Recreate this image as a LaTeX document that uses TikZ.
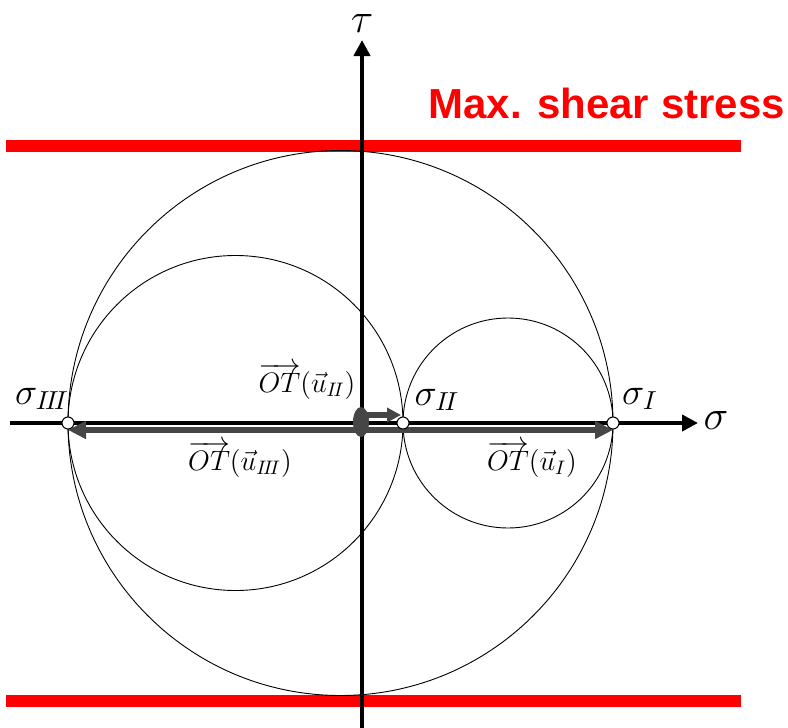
\documentclass[tikz,border=0pt]{standalone}
\usepackage{amsmath}
\usepackage{graphicx}
\usepackage{fontspec}
\setmainfont{Liberation Sans}
\usetikzlibrary{arrows.meta,shapes.geometric}
\definecolor{vecgray}{RGB}{70,70,70}
\definecolor{maxred}{RGB}{255,0,0}
\newcommand{\lblmath}[1]{\scalebox{1.95}{\fontsize{14.4}{17}\selectfont$#1$}}
\newcommand{\sigmath}[1]{\scalebox{2.6}{\fontsize{14.4}{17}\selectfont$#1$}}
\newcommand{\axmath}[1]{\scalebox{2.9}{\fontsize{14.4}{17}\selectfont$#1$}}
\tikzset{
  mohr/.style={draw=black, line width=0.9pt},
  axisline/.style={line width=4.5pt, -{Triangle[length=16pt,width=16pt]}},
  vecarrow/.style={vecgray, line width=6pt, -{Triangle[length=18pt,width=17pt]}},
  redline/.style={maxred, line width=12pt},
  pt/.style={circle, draw=black, fill=white, line width=1pt, inner sep=0pt, minimum size=12pt},
  lbl/.style={inner sep=0pt}
}
\begin{document}
\begin{tikzpicture}[x=1pt,y=-1pt]
\useasboundingbox (0,0) rectangle (788,728);
% red lines
\draw[redline] (6,146) -- (741,146);
\draw[redline] (6,701) -- (741,701);
\node[anchor=base east, inner sep=0pt, text=maxred, font=\fontsize{42}{48}\selectfont\bfseries] (title) at (785,118) {Max. shear stress};
% key coordinates
\coordinate (O) at (362,423);
\coordinate (S1) at (613,423);
\coordinate (S2) at (403,423);
\coordinate (S3) at (68,423);
% Mohr circles
\draw[mohr] (340.5,423) circle (272.5);
\draw[mohr] (235.5,423) circle (167.5);
\draw[mohr] (508,423) circle (105);
% axes
\coordinate (XL) at (10,423);
\coordinate (XR) at (698,423);
\coordinate (YB) at (362,728);
\coordinate (YT) at (362,40);
\draw[axisline] (XL) -- (XR);
\draw[axisline] (YB) -- (YT);
% vector arrows
\coordinate (Oa) at (362,430);
\coordinate (S1a) at (613,430);
\coordinate (S3a) at (68,430);
\coordinate (Ob) at (362,415);
\coordinate (S2b) at (401,415);
\draw[vecarrow] (Oa) -- (S1a);
\draw[vecarrow] (Oa) -- (S3a);
\draw[vecarrow, -{Triangle[length=14pt,width=14pt]}] (Ob) -- (S2b);
\node[ellipse, fill=vecgray, minimum width=16pt, minimum height=30pt, inner sep=0pt] (odot) at (361,422) {};
% points
\node[pt] (p1) at (S1) {};
\node[pt] (p2) at (S2) {};
\node[pt] (p3) at (S3) {};
% labels
\node[lbl, anchor=base] (tau) at (362,32) {\axmath{\tau}};
\node[lbl] (sig) at (716,421) {\axmath{\sigma}};
\node[lbl] (l1) at (640,399) {\sigmath{\sigma_{I}}};
\node[lbl] (l2) at (437,400) {\sigmath{\sigma_{I\!I}}};
\node[lbl] (l3) at (42,399) {\sigmath{\sigma_{I\!I\!I}}};
\node[lbl] (v1) at (532,459) {\lblmath{\overrightarrow{OT}(\vec{u}_{I})}};
\node[lbl] (v2) at (307,381) {\lblmath{\overrightarrow{OT}(\vec{u}_{I\!I})}};
\node[lbl] (v3) at (240,459) {\lblmath{\overrightarrow{OT}(\vec{u}_{I\!I\!I})}};
\end{tikzpicture}
\end{document}
